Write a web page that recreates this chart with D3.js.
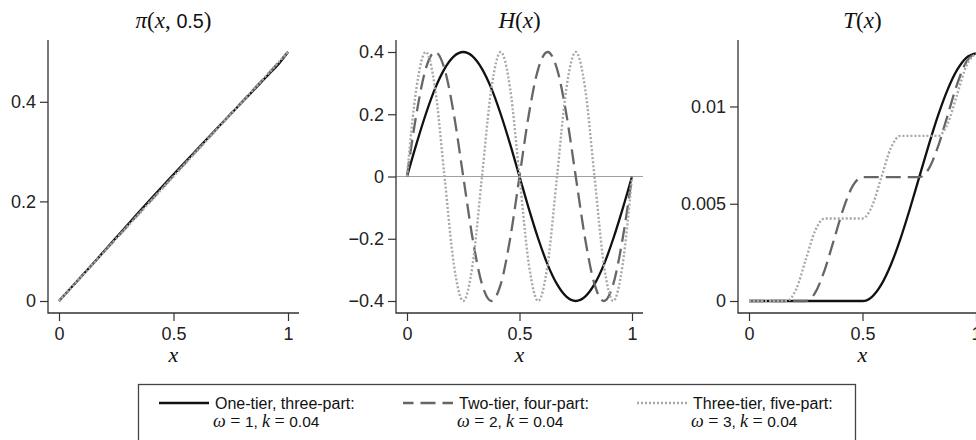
<!DOCTYPE html>
<html>
<head>
<meta charset="utf-8">
<script src="https://cdn.jsdelivr.net/npm/d3@7"></script>
<style>
  body { margin: 0; background: #fff; }
  svg { display: block; }
</style>
</head>
<body>
<script>
// grid of x values the curves were read at (steps of 1/24)
var xGrid = [0, 0.0417, 0.0833, 0.125, 0.1667, 0.2083, 0.25, 0.2917, 0.3333, 0.375, 0.4167, 0.4583,
    0.5, 0.5417, 0.5833, 0.625, 0.6667, 0.7083, 0.75, 0.7917, 0.8333, 0.875, 0.9167, 0.9583, 1];

// pi(x, 0.5)
var piOne = [0, 0.0209, 0.042, 0.0632, 0.0845, 0.106, 0.1275, 0.149, 0.1705, 0.1918, 0.2128, 0.2335,
    0.254, 0.2745, 0.2948, 0.315, 0.3352, 0.3553, 0.3754, 0.3955, 0.4155, 0.4355, 0.4555, 0.4756, 0.5];
var piTwo = [0, 0.0209, 0.0418, 0.0628, 0.0838, 0.1048, 0.1258, 0.1468, 0.1678, 0.1887, 0.2096, 0.2305,
    0.2514, 0.2722, 0.293, 0.3137, 0.3344, 0.3551, 0.3758, 0.3964, 0.417, 0.4375, 0.458, 0.479, 0.5];
var piThree = [0, 0.0208, 0.0417, 0.0625, 0.0834, 0.1042, 0.1251, 0.146, 0.1668, 0.1876, 0.2085, 0.2293,
    0.2501, 0.2709, 0.2917, 0.3125, 0.3334, 0.3542, 0.375, 0.3959, 0.4167, 0.4375, 0.4584, 0.4792, 0.5];

// H(x)
var hOne = [0, 0.104, 0.2, 0.283, 0.346, 0.386, 0.4, 0.386, 0.346, 0.283, 0.2, 0.104,
    0, -0.104, -0.2, -0.283, -0.346, -0.386, -0.4, -0.386, -0.346, -0.283, -0.2, -0.104, 0];
var hTwo = [0, 0.2, 0.346, 0.4, 0.346, 0.2, 0, -0.2, -0.346, -0.4, -0.346, -0.2,
    0, 0.2, 0.346, 0.4, 0.346, 0.2, 0, -0.2, -0.346, -0.4, -0.346, -0.2, 0];
var hThree = [0, 0.283, 0.4, 0.283, 0, -0.283, -0.4, -0.283, 0, 0.283, 0.4, 0.283,
    0, -0.283, -0.4, -0.283, 0, 0.283, 0.4, 0.283, 0, -0.283, -0.4, -0.283, 0];

// T(x)
var tOne = [0, 0, 0, 0, 0, 0, 0, 0, 0, 0, 0, 0,
    0, 0.000217, 0.000853, 0.001865, 0.003183, 0.004718, 0.006366, 0.008014, 0.009549, 0.010867, 0.011879, 0.012515, 0.012732];
var tTwo = [0, 0, 0, 0, 0, 0, 0, 0.000427, 0.001592, 0.003183, 0.004775, 0.00594,
    0.006366, 0.006366, 0.006366, 0.006366, 0.006366, 0.006366, 0.006366, 0.006793, 0.007958, 0.009549, 0.011141, 0.012306, 0.012732];
var tThree = [0, 0, 0, 0, 0, 0.000622, 0.002122, 0.003622, 0.004244, 0.004244, 0.004244, 0.004244,
    0.004244, 0.004866, 0.006366, 0.007866, 0.008488, 0.008488, 0.008488, 0.008488, 0.008488, 0.00911, 0.01061, 0.01211, 0.012732];

var xTicks = [0, 0.5, 1];
var piTicks = [0, 0.2, 0.4];
var hTicks = [-0.4, -0.2, 0, 0.2, 0.4];
var tTicks = [0, 0.005, 0.01];

var seriesNames = ['One-tier, three-part:', 'Two-tier, four-part:', 'Three-tier, five-part:'];
var omegas = ['1', '2', '3'];
var kValue = '0.04';

// line looks, same order as the series
var looks = [
    { color: '#111', dash: null, width: 2.3 },
    { color: '#666', dash: '15,7', width: 2.3 },
    { color: '#a8a8a8', dash: '2,2', width: 2.4 }
];

var SANS = 'Liberation Sans, Arial, sans-serif';
var SERIF = 'Liberation Serif, Times New Roman, serif';

var svg = d3.select('body').append('svg')
    .attr('width', 976)
    .attr('height', 440);

var plotTop = 40, plotBottom = 313, padX = 11, padY = 12;
var fmt = d3.format('~g');

var panels = [
    { left: 48, right: 299, ydom: [0, 0.5], yticks: piTicks, series: [piOne, piTwo, piThree],
      title: [['\u03c0', 'it'], ['(', 'rm'], ['x', 'it'], [', ', 'rm'], ['0.5', 'sans'], [')', 'rm']] },
    { left: 396, right: 643, ydom: [-0.4, 0.4], yticks: hTicks, series: [hOne, hTwo, hThree], zero: true,
      title: [['H', 'it'], ['(', 'rm'], ['x', 'it'], [')', 'rm']] },
    { left: 738, right: 987, ydom: [0, 0.0128], yticks: tTicks, series: [tOne, tTwo, tThree],
      title: [['T', 'it'], ['(', 'rm'], ['x', 'it'], [')', 'rm']] }
];

function addParts(textSel, parts) {
    parts.forEach(function (p) {
        var ts = textSel.append('tspan').text(p[0]);
        if (p[1] === 'it') ts.attr('font-family', SERIF).attr('font-style', 'italic');
        else if (p[1] === 'rm') ts.attr('font-family', SERIF);
        else ts.attr('font-family', SANS).attr('font-size', '0.86em');
    });
}

function styleTicks(g) {
    g.select('.domain').remove();
    g.selectAll('.tick line').attr('stroke', '#333').attr('stroke-width', 1.2);
    g.selectAll('.tick text')
        .attr('font-family', SANS)
        .attr('font-size', 18)
        .attr('fill', '#222');
}

panels.forEach(function (p) {
    var x = d3.scaleLinear().domain([0, 1]).range([p.left + padX, p.right - padX]);
    var y = d3.scaleLinear().domain(p.ydom).range([plotBottom - padY, plotTop + padY]);
    var g = svg.append('g');

    if (p.zero) {
        g.append('line')
            .attr('x1', p.left).attr('x2', p.right)
            .attr('y1', y(0)).attr('y2', y(0))
            .attr('stroke', '#a0a0a0').attr('stroke-width', 1.2);
    }

    g.append('g')
        .attr('transform', 'translate(0,' + plotBottom + ')')
        .call(d3.axisBottom(x).tickValues(xTicks).tickSize(8).tickPadding(6).tickFormat(fmt))
        .call(styleTicks);
    g.append('g')
        .attr('transform', 'translate(' + p.left + ',0)')
        .call(d3.axisLeft(y).tickValues(p.yticks).tickSize(8).tickPadding(4).tickFormat(fmt))
        .call(styleTicks);

    // detached frame lines
    g.append('path')
        .attr('d', 'M' + p.left + ',' + plotTop + 'V' + plotBottom + 'H' + p.right)
        .attr('fill', 'none').attr('stroke', '#333').attr('stroke-width', 1.3);

    var line = d3.line()
        .x(function (d, i) { return x(xGrid[i]); })
        .y(function (d) { return y(d); })
        .curve(d3.curveMonotoneX);

    p.series.forEach(function (vals, i) {
        g.append('path')
            .attr('d', line(vals))
            .attr('fill', 'none')
            .attr('stroke', looks[i].color)
            .attr('stroke-width', looks[i].width)
            .attr('stroke-dasharray', looks[i].dash);
    });

    var title = g.append('text')
        .attr('x', (x(0) + x(1)) / 2)
        .attr('y', 28)
        .attr('text-anchor', 'middle')
        .attr('font-size', 23)
        .attr('fill', '#111');
    addParts(title, p.title);

    g.append('text')
        .attr('x', x(0.5))
        .attr('y', 362)
        .attr('text-anchor', 'middle')
        .attr('font-family', SERIF)
        .attr('font-style', 'italic')
        .attr('font-size', 22)
        .attr('fill', '#111')
        .text('x');
});

// legend
var legend = svg.append('g');
legend.append('rect')
    .attr('x', 138.5).attr('y', 384.5)
    .attr('width', 717).attr('height', 70)
    .attr('fill', '#fff').attr('stroke', '#444').attr('stroke-width', 1.3);

var colX = [159, 403, 637];
seriesNames.forEach(function (name, i) {
    var cx = colX[i];
    legend.append('line')
        .attr('x1', cx).attr('x2', cx + 50)
        .attr('y1', 403).attr('y2', 403)
        .attr('stroke', looks[i].color)
        .attr('stroke-width', looks[i].width)
        .attr('stroke-dasharray', looks[i].dash)
        .attr('stroke-dashoffset', i === 1 ? 4.5 : 0);
    legend.append('text')
        .attr('x', cx + 56).attr('y', 409)
        .attr('font-family', SANS).attr('font-size', 16).attr('fill', '#111')
        .text(name);
    var t2 = legend.append('text')
        .attr('x', cx + 54).attr('y', 427)
        .attr('font-size', 18).attr('fill', '#111');
    addParts(t2, [['\u03c9', 'it'], [' = ', 'rm'], [omegas[i] + ', ', 'sans'], ['k', 'it'], [' = ', 'rm'], [kValue, 'sans']]);
});
</script>
</body>
</html>
